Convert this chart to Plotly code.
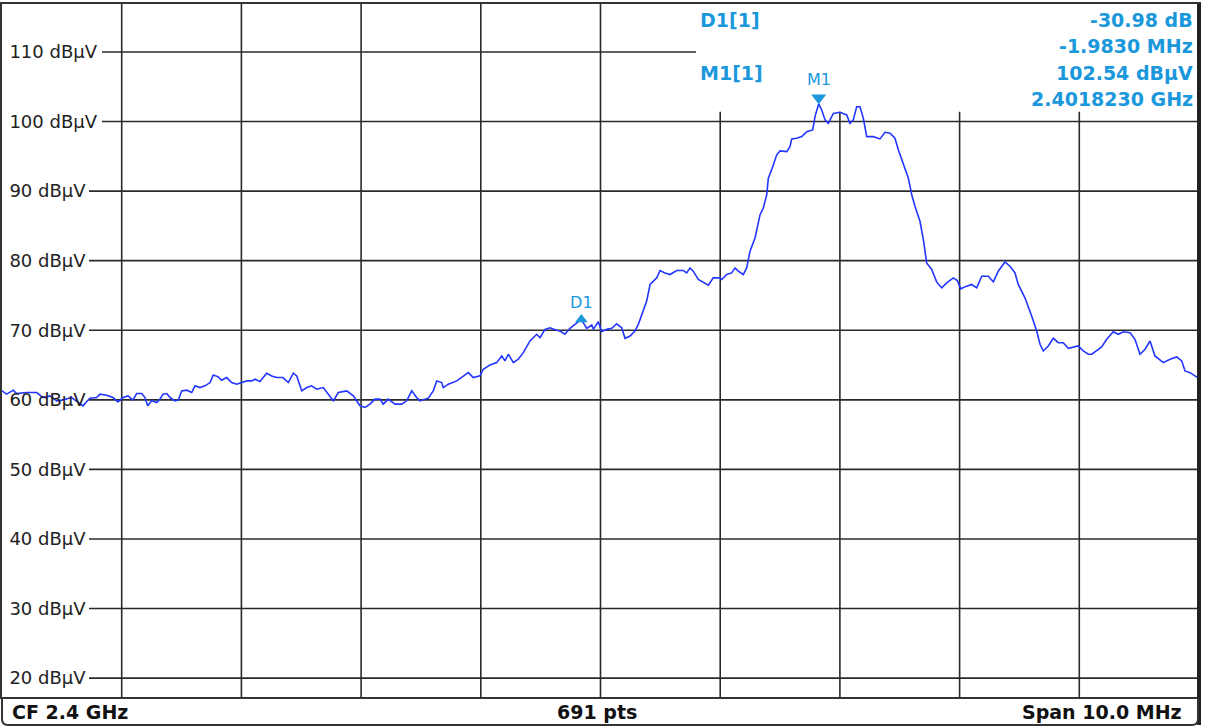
import plotly.graph_objects as go

# ---------------- data ----------------
CF_MHZ = 2400.0
SPAN_MHZ = 10.0
N_POINTS = 691

freq_offset_mhz = [
    -5.000, -4.961, -4.906, -4.877, -4.794, -4.710, -4.657, -4.599, -4.543, -4.501,
    -4.418, -4.365, -4.323, -4.292, -4.265, -4.209, -4.181, -4.125, -4.073, -4.031,
    -3.989, -3.947, -3.906, -3.875, -3.833, -3.805, -3.783, -3.749, -3.708, -3.680,
    -3.655, -3.624, -3.596, -3.555, -3.527, -3.499, -3.457, -3.415, -3.388, -3.346,
    -3.304, -3.262, -3.235, -3.193, -3.165, -3.123, -3.081, -3.039, -2.997, -2.956,
    -2.914, -2.886, -2.845, -2.789, -2.747, -2.705, -2.653, -2.608, -2.566, -2.538,
    -2.496, -2.454, -2.413, -2.371, -2.316, -2.274, -2.232, -2.190, -2.120, -2.065,
    -2.009, -1.967, -1.926, -1.884, -1.842, -1.815, -1.773, -1.717, -1.661, -1.619,
    -1.577, -1.536, -1.508, -1.439, -1.397, -1.368, -1.327, -1.313, -1.271, -1.201,
    -1.146, -1.104, -1.063, -1.007, -0.979, -0.923, -0.867, -0.825, -0.798, -0.770,
    -0.728, -0.687, -0.645, -0.589, -0.533, -0.505, -0.464, -0.422, -0.366, -0.338,
    -0.297, -0.255, -0.213, -0.160, -0.115, -0.073, -0.060, -0.018, 0.010, 0.052,
    0.094, 0.135, 0.177, 0.205, 0.247, 0.288, 0.316, 0.358, 0.386, 0.414,
    0.441, 0.470, 0.497, 0.539, 0.581, 0.637, 0.692, 0.720, 0.748, 0.775,
    0.817, 0.873, 0.901, 0.942, 0.998, 1.013, 1.054, 1.096, 1.124, 1.151,
    1.193, 1.221, 1.249, 1.291, 1.333, 1.360, 1.389, 1.402, 1.430, 1.472,
    1.500, 1.556, 1.583, 1.597, 1.639, 1.681, 1.723, 1.773, 1.792, 1.823,
    1.848, 1.876, 1.903, 1.945, 2.001, 2.057, 2.084, 2.112, 2.140, 2.168,
    2.196, 2.224, 2.279, 2.335, 2.377, 2.419, 2.460, 2.488, 2.530, 2.572,
    2.600, 2.627, 2.669, 2.697, 2.725, 2.767, 2.809, 2.851, 2.892, 2.948,
    2.981, 3.009, 3.059, 3.101, 3.143, 3.185, 3.240, 3.282, 3.323, 3.379,
    3.421, 3.463, 3.490, 3.546, 3.602, 3.644, 3.672, 3.699, 3.741, 3.783,
    3.825, 3.866, 3.908, 3.950, 3.992, 4.033, 4.075, 4.104, 4.145, 4.187,
    4.229, 4.284, 4.326, 4.368, 4.424, 4.465, 4.507, 4.549, 4.591, 4.632,
    4.702, 4.758, 4.814, 4.856, 4.883, 4.925, 4.989, 5.000,
]

level_dbuv = [
    61.30, 60.82, 61.39, 60.90, 61.05, 61.05, 60.33, 60.57, 59.86, 59.96,
    60.33, 59.61, 59.14, 59.76, 60.24, 60.33, 60.82, 60.67, 60.33, 59.71,
    60.33, 60.57, 59.96, 60.90, 60.90, 60.33, 59.14, 59.86, 59.61, 60.10,
    60.82, 60.90, 60.33, 59.86, 59.96, 61.29, 61.39, 61.05, 62.01, 61.76,
    62.01, 62.48, 63.58, 63.30, 62.82, 63.20, 62.48, 62.25, 62.48, 62.72,
    62.72, 62.97, 62.62, 63.83, 63.44, 63.20, 63.20, 62.48, 63.83, 63.44,
    61.29, 61.76, 62.01, 61.53, 61.76, 60.82, 59.86, 61.05, 61.29, 60.57,
    59.14, 58.90, 59.38, 60.10, 60.10, 59.38, 60.10, 59.38, 59.38, 59.86,
    61.29, 60.33, 59.86, 60.24, 61.29, 62.72, 62.48, 61.76, 62.25, 62.72,
    63.44, 63.91, 63.20, 63.44, 64.40, 65.02, 65.35, 66.31, 65.59, 66.55,
    65.35, 65.83, 66.78, 68.46, 69.42, 68.93, 70.13, 70.36, 69.99, 69.89,
    69.42, 70.28, 70.85, 71.56, 70.28, 70.75, 70.13, 71.22, 69.79, 70.13,
    70.28, 70.93, 70.36, 68.84, 69.17, 69.89, 70.85, 72.75, 74.19, 76.58,
    77.05, 77.53, 78.59, 78.24, 78.01, 78.59, 78.59, 78.24, 78.96, 78.49,
    77.30, 76.81, 76.48, 77.53, 77.53, 77.30, 78.01, 78.24, 78.96, 78.49,
    78.01, 78.96, 81.35, 83.26, 86.61, 87.56, 89.48, 91.86, 93.06, 95.21,
    95.78, 95.68, 96.40, 97.50, 97.59, 97.83, 98.55, 98.79, 100.70, 102.54,
    101.66, 100.23, 99.74, 101.17, 101.32, 100.94, 99.74, 100.23, 102.13, 102.13,
    100.46, 97.83, 97.83, 97.50, 98.45, 98.31, 97.59, 95.93, 94.01, 91.86,
    89.48, 87.81, 85.66, 83.07, 79.68, 78.73, 76.91, 76.09, 76.81, 77.53,
    77.15, 75.95, 76.34, 76.58, 76.09, 77.77, 77.77, 76.95, 78.49, 79.82,
    79.20, 78.24, 76.58, 74.66, 72.04, 69.89, 67.98, 67.02, 67.74, 68.84,
    68.21, 68.21, 67.41, 67.60, 67.74, 67.02, 66.55, 66.55, 67.02, 67.60,
    68.70, 69.79, 69.42, 69.79, 69.64, 68.70, 66.55, 67.27, 68.46, 66.31,
    65.35, 65.83, 66.16, 65.59, 64.16, 63.91, 63.20, 63.10,
]

# marker readout
M1_FREQ_GHZ = 2.4018230
M1_LEVEL_DBUV = 102.54
D1_DELTA_DB = -30.98
D1_DELTA_MHZ = -1.9830

y_tick_values = [20, 30, 40, 50, 60, 70, 80, 90, 100, 110]
y_tick_labels = [f"{v} dBμV" for v in y_tick_values]

bottom_left_label = "CF 2.4 GHz"
bottom_mid_label = f"{N_POINTS} pts"
bottom_right_label = "Span 10.0 MHz"

# ---------------- derived values ----------------
freq_mhz = [CF_MHZ + f for f in freq_offset_mhz]
m1_freq_mhz = M1_FREQ_GHZ * 1000.0
d1_freq_mhz = m1_freq_mhz + D1_DELTA_MHZ
d1_level = M1_LEVEL_DBUV + D1_DELTA_DB
x_min = CF_MHZ - SPAN_MHZ / 2
x_max = CF_MHZ + SPAN_MHZ / 2
Y_RANGE = [17.29, 116.89]

# ---------------- style constants ----------------
W, H = 1211, 728
ML, MR, MT, MB = 2, 12, 2, 31
PW = W - ML - MR
PH = H - MT - MB
PX_PER_DB = PH / (Y_RANGE[1] - Y_RANGE[0])
GRID = "#2a2a2a"
TRACE = "#2236ff"
MARK = "#1b98dc"
FONT = "DejaVu Sans"


def px_x(px):
    return (px - ML) / PW


def px_y(py):
    return (H - MB - py) / PH


fig = go.Figure()

fig.add_trace(go.Scatter(
    x=freq_mhz, y=level_dbuv, mode="lines",
    line=dict(color=TRACE, width=1.6),
    hoverinfo="skip", showlegend=False,
))

# D1 marker
fig.add_trace(go.Scatter(
    x=[d1_freq_mhz], y=[d1_level], mode="markers+text",
    marker=dict(symbol="triangle-up", size=11, color=MARK),
    text=["D1"], textposition="top center",
    textfont=dict(family=FONT, size=16, color=MARK),
    hoverinfo="skip", showlegend=False,
))

# M1 marker (triangle sits just above the trace peak)
fig.add_trace(go.Scatter(
    x=[m1_freq_mhz], y=[M1_LEVEL_DBUV + 6 / PX_PER_DB], mode="markers",
    marker=dict(symbol="triangle-down", size=13, color=MARK),
    hoverinfo="skip", showlegend=False,
))

shapes = []
# vertical grid lines
for k in range(1, 10):
    shapes.append(dict(type="line", xref="x", yref="paper",
                       x0=x_min + k, x1=x_min + k, y0=0, y1=1,
                       line=dict(color=GRID, width=1.6), layer="below"))
# horizontal grid lines (starting after the label text)
for v in y_tick_values:
    start_px = 63 + 13 * len(str(v))
    shapes.append(dict(type="line", xref="paper", yref="y",
                       x0=px_x(start_px), x1=1, y0=v, y1=v,
                       line=dict(color=GRID, width=1.6), layer="below"))
# white readout box over the top-right part of the grid
shapes.append(dict(type="rect", xref="paper", yref="paper",
                   x0=px_x(696), x1=1.0, y0=px_y(110), y1=1.0,
                   fillcolor="white", line=dict(width=0), layer="below"))
# thick right border
shapes.append(dict(type="line", xref="paper", yref="paper",
                   x0=1.0, x1=1.0, y0=px_y(725), y1=1.0,
                   line=dict(color="#222222", width=4)))
# bottom status bar with rounded lower corners
x0b, x1b = px_x(2), px_x(1198)
y0b, y1b = px_y(725), px_y(698)
rx, ry = 6 / PW, 6 / PH
path = (f"M {x0b},{y1b} L {x0b},{y0b + ry} Q {x0b},{y0b} {x0b + rx},{y0b} "
        f"L {x1b - rx},{y0b} Q {x1b},{y0b} {x1b},{y0b + ry} L {x1b},{y1b}")
shapes.append(dict(type="path", xref="paper", yref="paper", path=path,
                   line=dict(color="#333333", width=2)))

annotations = []
# readout texts
left_lines = [("D1[1]", 18), ("M1[1]", 71)]
for txt, py in left_lines:
    annotations.append(dict(xref="paper", yref="paper", x=px_x(698), y=px_y(py),
                            xanchor="left", yanchor="middle", text=f"<b>{txt}</b>",
                            showarrow=False, font=dict(family=FONT, size=19, color=MARK)))
right_lines = [
    (f"{D1_DELTA_DB:.2f} dB", 18),
    (f"{D1_DELTA_MHZ:.4f} MHz", 44.5),
    (f"{M1_LEVEL_DBUV:.2f} dBμV", 71),
    (f"{M1_FREQ_GHZ:.7f} GHz", 97.5),
]
for txt, py in right_lines:
    annotations.append(dict(xref="paper", yref="paper", x=px_x(1195), y=px_y(py),
                            xanchor="right", yanchor="middle", text=f"<b>{txt}</b>",
                            showarrow=False, font=dict(family=FONT, size=19, color=MARK)))
# M1 label
annotations.append(dict(xref="x", yref="y", x=m1_freq_mhz, y=M1_LEVEL_DBUV,
                        xanchor="center", yanchor="bottom", text="M1", yshift=13,
                        showarrow=False, font=dict(family=FONT, size=16, color=MARK)))
# bottom bar labels
annotations.append(dict(xref="paper", yref="paper", x=px_x(10), y=px_y(712),
                        xanchor="left", yanchor="middle", text=f"<b>{bottom_left_label}</b>",
                        showarrow=False, font=dict(family=FONT, size=19, color="#111111")))
annotations.append(dict(xref="paper", yref="paper", x=px_x(597), y=px_y(712),
                        xanchor="center", yanchor="middle", text=f"<b>{bottom_mid_label}</b>",
                        showarrow=False, font=dict(family=FONT, size=19, color="#111111")))
annotations.append(dict(xref="paper", yref="paper", x=px_x(1184), y=px_y(712),
                        xanchor="right", yanchor="middle", text=f"<b>{bottom_right_label}</b>",
                        showarrow=False, font=dict(family=FONT, size=19, color="#111111")))

fig.update_layout(
    width=W, height=H,
    margin=dict(l=ML, r=MR, t=MT, b=MB, pad=0),
    paper_bgcolor="white", plot_bgcolor="white",
    font=dict(family=FONT, size=18, color="#222222"),
    shapes=shapes, annotations=annotations,
    showlegend=False,
    xaxis=dict(range=[x_min, x_max], showgrid=False, zeroline=False,
               showticklabels=False, ticks="", showline=True, mirror=True,
               linecolor="#333333", linewidth=2, fixedrange=True),
    yaxis=dict(range=Y_RANGE, showgrid=False, zeroline=False,
               tickvals=y_tick_values, ticktext=y_tick_labels,
               ticklabelposition="inside", ticks="", ticklabelstandoff=8,
               tickfont=dict(family=FONT, size=18, color="#222222"),
               showline=True, mirror=True, linecolor="#333333", linewidth=2,
               fixedrange=True),
)

fig.write_html("out.html", config={"displayModeBar": False},
               post_script="document.body.style.margin='0';")
